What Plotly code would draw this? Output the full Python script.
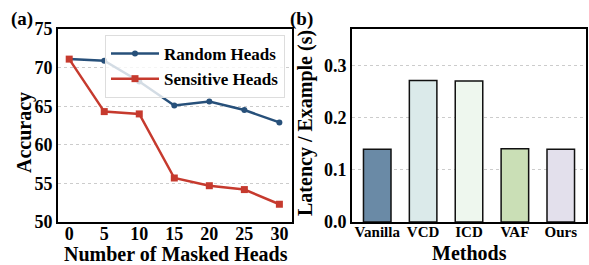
import plotly.graph_objects as go

# Data
masked_heads = [0, 5, 10, 15, 20, 25, 30]
random_heads = [71.1, 70.9, 68.2, 65.1, 65.6, 64.5, 62.9]
sensitive_heads = [71.1, 64.3, 64.0, 55.7, 54.7, 54.2, 52.3]

methods = ["Vanilla", "VCD", "ICD", "VAF", "Ours"]
latency = [0.140, 0.272, 0.271, 0.141, 0.140]
bar_colors = ["#6a8aa6", "#dbeaea", "#eef7ee", "#cadfb6", "#e3e0ec"]

W, H = 589, 265
FONT = "Liberation Serif"

fig = go.Figure()

fig.add_trace(go.Scatter(
    x=masked_heads, y=random_heads, mode="lines+markers", name="<b>Random Heads</b>",
    line=dict(color="#27507a", width=2.5),
    marker=dict(symbol="circle", size=6, color="#27507a"),
    xaxis="x", yaxis="y"))
fig.add_trace(go.Scatter(
    x=masked_heads, y=sensitive_heads, mode="lines+markers", name="<b>Sensitive Heads</b>",
    line=dict(color="#c63a2e", width=2.5),
    marker=dict(symbol="square", size=7, color="#c63a2e"),
    xaxis="x", yaxis="y"))

fig.add_trace(go.Bar(
    x=methods, y=latency, width=0.6,
    marker=dict(color=bar_colors, line=dict(color="#111111", width=1.5)),
    showlegend=False, xaxis="x2", yaxis="y2"))

def px_x(p):
    return p / W

def px_y(p):
    return 1 - p / H

ydom = [px_y(222), px_y(29)]
tickfont = dict(family=FONT, size=18, color="black")

common = dict(automargin=False, zeroline=False, showline=True, mirror=True,
              linecolor="black", linewidth=2, ticks="")

fig.update_layout(
    width=W, height=H,
    margin=dict(l=0, r=0, t=0, b=0),
    paper_bgcolor="white", plot_bgcolor="white",
    font=dict(family=FONT, color="black"),
    xaxis=dict(domain=[px_x(58), px_x(292)], range=[-1.6, 31.8],
               tickvals=masked_heads, ticktext=[f"<b>{v}</b>" for v in masked_heads],
               tickfont=tickfont, showgrid=False, ticklabelstandoff=-6, **common),
    yaxis=dict(domain=ydom, range=[50, 75],
               tickvals=[50, 55, 60, 65, 70, 75],
               ticktext=[f"<b>{v}</b>" for v in [50, 55, 60, 65, 70, 75]],
               tickfont=tickfont, showgrid=True, gridcolor="#cccccc", griddash="dot", gridwidth=1,
               **common),
    xaxis2=dict(domain=[px_x(352), px_x(586)], range=[-0.55, 4.55],
                tickvals=methods, ticktext=[f"<b>{m}</b>" for m in methods],
                tickfont=dict(family=FONT, size=15, color="black"),
                showgrid=False, anchor="y2", ticklabelstandoff=-5, **common),
    yaxis2=dict(domain=ydom, range=[0, 0.371], anchor="x2",
                tickvals=[0, 0.1, 0.2, 0.3],
                ticktext=["<b>0.0</b>", "<b>0.1</b>", "<b>0.2</b>", "<b>0.3</b>"],
                tickfont=tickfont, showgrid=True, gridcolor="#cccccc", griddash="dot", gridwidth=1,
                **common),
    legend=dict(x=px_x(105), y=px_y(35), xanchor="left", yanchor="top",
                bgcolor="rgba(255,255,255,0.8)", bordercolor="#dddddd", borderwidth=1,
                font=dict(family=FONT, size=17, color="black"),
                itemwidth=48, tracegroupgap=0),
    showlegend=True,
)

annos = [
    dict(text="<b>Number of Masked Heads</b>", x=px_x(176), y=px_y(254), size=20, angle=0),
    dict(text="<b>Accuracy</b>", x=px_x(24), y=px_y(133), size=20, angle=-90),
    dict(text="<b>Methods</b>", x=px_x(469), y=px_y(253), size=20, angle=0),
    dict(text="<b>Latency / Example (s)</b>", x=px_x(305), y=px_y(123), size=20, angle=-90),
    dict(text="<b>(a)</b>", x=px_x(22), y=px_y(19), size=19, angle=0),
    dict(text="<b>(b)</b>", x=px_x(301), y=px_y(19), size=19, angle=0),
]
for a in annos:
    fig.add_annotation(text=a["text"], x=a["x"], y=a["y"], xref="paper", yref="paper",
                       xanchor="center", yanchor="middle", showarrow=False, textangle=a["angle"],
                       font=dict(family=FONT, size=a["size"], color="black"))

fig.write_html("out.html", config={"displayModeBar": False},
               post_script="document.body.style.margin='0';document.body.style.padding='0';")
